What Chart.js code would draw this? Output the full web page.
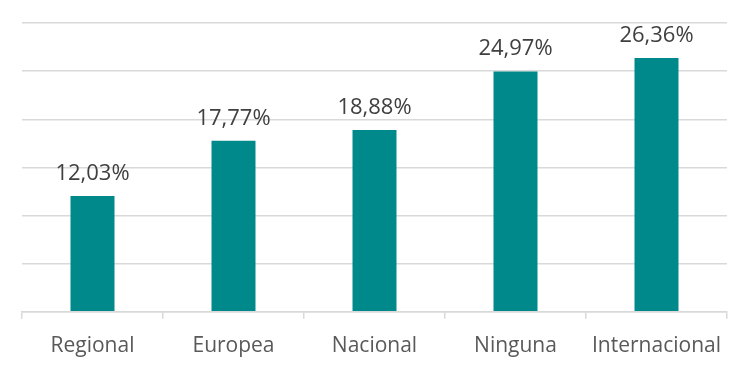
<!DOCTYPE html>
<html>
<head>
<meta charset="utf-8">
<script src="https://cdn.jsdelivr.net/npm/chart.js@4.4.1/dist/chart.umd.min.js"></script>
<style>
  html, body { margin: 0; padding: 0; background: #fff; }
  #wrap { width: 749px; height: 371px; }
</style>
</head>
<body>
<div id="wrap"><canvas id="chart" width="749" height="371"></canvas></div>
<script>
// Data
const categories = ['Regional', 'Europea', 'Nacional', 'Ninguna', 'Internacional'];
const shares = [12.03, 17.77, 18.88, 24.97, 26.36];

// Draws the value above each bar (Spanish decimal comma)
const valueLabels = {
  id: 'valueLabels',
  afterDatasetsDraw(chart) {
    const ctx = chart.ctx;
    const meta = chart.getDatasetMeta(0);
    ctx.save();
    ctx.font = '22px "Open Sans", sans-serif';
    ctx.fillStyle = '#404040';
    ctx.textAlign = 'center';
    ctx.textBaseline = 'alphabetic';
    meta.data.forEach((bar, i) => {
      const txt = shares[i].toFixed(2).replace('.', ',') + '%';
      ctx.fillText(txt, bar.x, bar.y - 16);
    });
    ctx.restore();
  }
};

new Chart(document.getElementById('chart'), {
  type: 'bar',
  data: {
    labels: categories,
    datasets: [{
      data: shares,
      backgroundColor: '#00898A',
      borderWidth: 0,
      categoryPercentage: 1,
      barPercentage: 0.312
    }]
  },
  options: {
    responsive: false,
    animation: false,
    layout: { padding: { left: 22, right: 22, top: 23, bottom: -3 } },
    plugins: { legend: { display: false }, tooltip: { enabled: false } },
    scales: {
      x: {
        grid: { drawOnChartArea: false, drawTicks: true, tickLength: 7, color: '#D9D9D9', lineWidth: 1.5 },
        border: { color: '#D9D9D9', width: 1.5 },
        ticks: { color: '#595959', font: { family: '"Open Sans", sans-serif', size: 21 }, padding: 15 }
      },
      y: {
        min: 0,
        max: 30,
        ticks: { display: false, stepSize: 5 },
        grid: { color: '#D9D9D9', lineWidth: 1.5, drawTicks: false },
        border: { display: false }
      }
    }
  },
  plugins: [valueLabels]
});
</script>
</body>
</html>
